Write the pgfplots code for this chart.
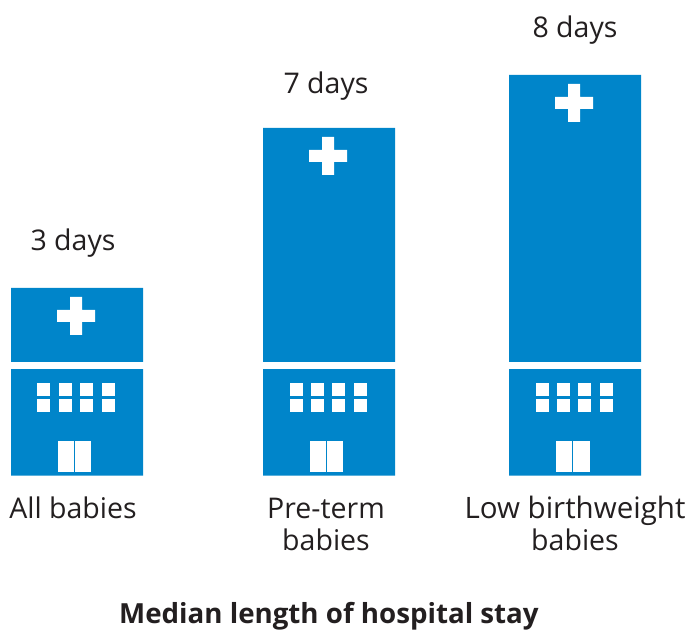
\documentclass[border=0pt]{standalone}
\usepackage{fontspec}
\setmainfont{Open Sans}
\usepackage{pgfplots}
\pgfplotsset{compat=1.18}
\definecolor{hospblue}{HTML}{0085CA}
\definecolor{txt}{HTML}{231F20}
\newcommand\lab{\fontsize{28.5}{32}\selectfont}
\newcommand\lowb{\fontsize{29.5}{32}\selectfont}
\newcommand\ttl{\fontsize{27.7}{32}\selectfont\bfseries}
\tikzset{lb/.style={text=txt, font=\lab, anchor=base, inner sep=0pt, align=center}}
\begin{document}
\begin{tikzpicture}[x=1pt,y=1pt]
\useasboundingbox (0,0) rectangle (687pt,629pt);
\begin{axis}[
  anchor=south west, at={(0,0)},
  scale only axis, width=687pt, height=629pt,
  xmin=0, xmax=687, ymin=-153.3, ymax=475.7,
  hide axis, clip=false,
]
% building bodies: height of each bar, in pixels above the base
\addplot[ybar, bar width=132pt, bar shift=0pt, fill=hospblue, draw=none] coordinates {(77,187.7) (329,347.7) (575,400.7)};
% gap between storey and ground floor
\addplot[fill=white, draw=none] coordinates {(5,106.7) (650,106.7) (650,113.7) (5,113.7)} --cycle;
% windows
\addplot[only marks, mark=square*, mark size=5.8pt, mark options={fill=white, draw=white, line width=0.4pt}] coordinates {
 (43,86.7)(65,86.7)(86,86.7)(108,86.7)(43,70.7)(65,70.7)(86,70.7)(108,70.7)
 (296,86.7)(317,86.7)(338,86.7)(360,86.7)(296,70.7)(317,70.7)(338,70.7)(360,70.7)
 (542,86.7)(563,86.7)(584,86.7)(606,86.7)(542,70.7)(563,70.7)(584,70.7)(606,70.7)};
% doors
\addplot[fill=white, draw=none] coordinates {(58,3.7)(74,3.7)(74,34.7)(58,34.7)} --cycle;
\addplot[fill=white, draw=none] coordinates {(75,3.7)(91,3.7)(91,34.7)(75,34.7)} --cycle;
\addplot[fill=white, draw=none] coordinates {(310,3.7)(326,3.7)(326,34.7)(310,34.7)} --cycle;
\addplot[fill=white, draw=none] coordinates {(327,3.7)(343,3.7)(343,34.7)(327,34.7)} --cycle;
\addplot[fill=white, draw=none] coordinates {(556,3.7)(572,3.7)(572,34.7)(556,34.7)} --cycle;
\addplot[fill=white, draw=none] coordinates {(573,3.7)(590,3.7)(590,34.7)(573,34.7)} --cycle;
% crosses
\addplot[fill=white, draw=none] coordinates {(70,178.7)(82,178.7)(82,165.7)(95,165.7)(95,153.7)(82,153.7)(82,140.7)(70,140.7)(70,153.7)(57,153.7)(57,165.7)(70,165.7)} --cycle;
\addplot[fill=white, draw=none] coordinates {(322,338.7)(334,338.7)(334,325.7)(347,325.7)(347,313.7)(334,313.7)(334,300.7)(322,300.7)(322,313.7)(309,313.7)(309,325.7)(322,325.7)} --cycle;
\addplot[fill=white, draw=none] coordinates {(568,391.7)(580,391.7)(580,378.7)(593,378.7)(593,366.7)(580,366.7)(580,353.7)(568,353.7)(568,366.7)(555,366.7)(555,378.7)(568,378.7)} --cycle;
% value labels
\node[lb] at (axis cs:73,225.2) {3 days};
\node[lb] at (axis cs:326,381.7) {7 days};
\node[lb] at (axis cs:575,438.2) {8 days};
% category labels
\node[lb] at (axis cs:73,-42.6) {All babies};
\node[lb] at (axis cs:326,-42.6) {Pre-term};
\node[lb] at (axis cs:326,-74.6) {babies};
\node[lb, font=\lowb] at (axis cs:575,-42.6) {Low birthweight};
\node[lb] at (axis cs:575,-74.6) {babies};
\node[lb, font=\ttl] at (axis cs:329,-147.3) {Median length of hospital stay};
\end{axis}
\end{tikzpicture}
\end{document}
